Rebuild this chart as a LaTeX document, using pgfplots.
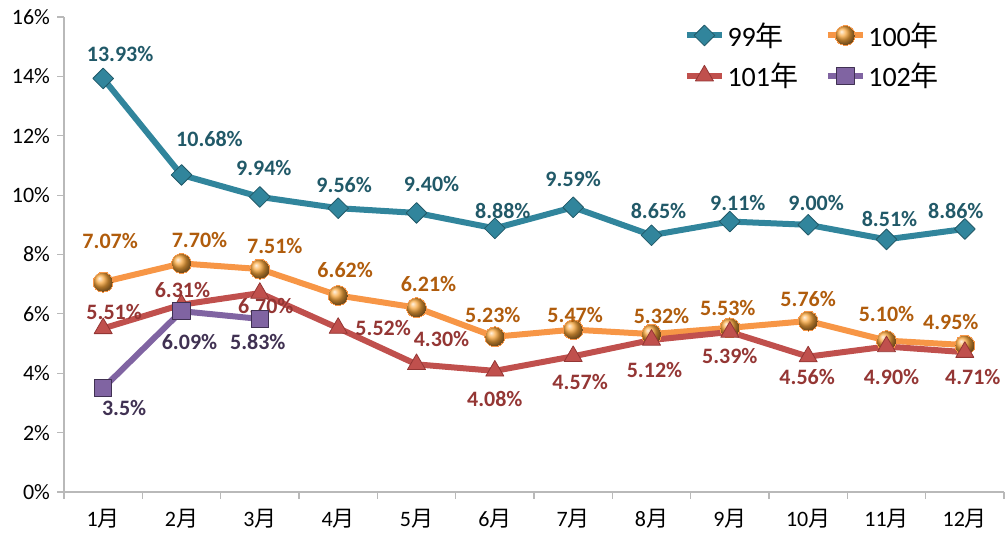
\documentclass[border=0pt]{standalone}
\usepackage{fontspec}
\setmainfont{Carlito}
\newfontfamily\cjk{Noto Sans CJK TC}
\usepackage{pgfplots}
\pgfplotsset{compat=1.18}

\definecolor{tealL}{HTML}{31859C}
\definecolor{tealD}{HTML}{215968}
\definecolor{orgL}{HTML}{F79646}
\definecolor{orgD}{HTML}{B05C0C}
\definecolor{redL}{HTML}{C0504D}
\definecolor{redD}{HTML}{943634}
\definecolor{purL}{HTML}{8064A2}
\definecolor{purD}{HTML}{403152}

\pgfplotsset{
  sA/.style={tealL, line width=4.5pt, mark=square*,
    mark options={rotate=45, fill=tealL, draw=tealD, line width=0.6pt, mark size=5.5pt}},
  sB/.style={orgL, line width=4.5pt, mark=ball,
    mark options={ball color=orgL!85!yellow, draw=none, line width=0pt, mark size=7.5pt}},
  sC/.style={redL, line width=4.5pt, mark=triangle*,
    mark options={fill=redL, draw=redD, line width=0.6pt, mark size=7.8pt}},
  sD/.style={purL, line width=4.5pt, mark=square*,
    mark options={fill=purL, draw=purD, line width=0.6pt, mark size=6.5pt}},
  % label offsets dx, dy are in px of the reference
  lbl/.style={
    forget plot,
    nodes near coords={\pgfplotspointmeta\%},
    point meta=explicit symbolic,
    visualization depends on={value \thisrow{dx} \as \ldx},
    visualization depends on={value \thisrow{dy} \as \ldy},
    every node near coord/.append style={anchor=center, inner sep=0pt,
      xshift=\ldx*0.75pt, yshift=\ldy*0.75pt,
      font=\fontsize{16.5}{19}\selectfont\bfseries},
  },
}

\begin{document}
\begin{tikzpicture}
\path[use as bounding box] (-48pt,-30.75pt) rectangle (706.5pt,369pt);
\begin{axis}[
  at={(0,0)}, anchor=south west,
  scale only axis, width=705pt, height=356.25pt,
  xmin=-0.5, xmax=11.5, ymin=0, ymax=16,
  clip=false,
  axis lines=left,
  axis line style={-, gray!55, line width=0.8pt},
  tick style={gray!55, line width=0.8pt},
  tick align=outside,
  major tick length=5pt,
  ytick={0,2,...,16},
  yticklabels={0\%,2\%,4\%,6\%,8\%,10\%,12\%,14\%,16\%},
  xtick={-0.5,0.5,...,11.5},
  xticklabels={1{\cjk 月},2{\cjk 月},3{\cjk 月},4{\cjk 月},5{\cjk 月},6{\cjk 月},7{\cjk 月},8{\cjk 月},9{\cjk 月},10{\cjk 月},11{\cjk 月},12{\cjk 月},{}},
  xticklabel style={xshift=29.375pt, yshift=-4pt},
  yticklabel style={xshift=-2pt},
  ticklabel style={font=\fontsize{16.5}{19}\selectfont},
  line join=round,
  legend columns=2,
  legend cell align=left,
  legend style={draw=none, fill=none, at={(0.655,1.0)}, anchor=north west,
    font=\fontsize{21}{25}\selectfont,
    /tikz/every even column/.append style={column sep=18pt},
    row sep=7pt},
  legend image code/.code={%
    \draw[mark repeat=2, mark phase=2] plot coordinates {(0cm,0cm) (0.46cm,0cm) (0.92cm,0cm)};},
]
\addlegendimage{sA}\addlegendentry{99{\cjk 年}}
\addlegendimage{sB}\addlegendentry{100{\cjk 年}}
\addlegendimage{sC}\addlegendentry{101{\cjk 年}}
\addlegendimage{sD}\addlegendentry{102{\cjk 年}}

\addplot[sA, lbl, every node near coord/.append style={text=tealD}]
  table[x=x, y=y, meta=lab] {
x y lab dx dy
0 13.93 13.93 17 24
1 10.68 10.68 28 36
2 9.94 9.94 4 29
3 9.56 9.56 6 23
4 9.40 9.40 15 29
5 8.88 8.88 8 17
6 9.59 9.59 0 28
7 8.65 8.65 7 24
8 9.11 9.11 8 19
9 9.00 9.00 8 22
10 8.51 8.51 3 20
11 8.86 8.86 -9 18
};
\addplot[sB, lbl, every node near coord/.append style={text=orgD}]
  table[x=x, y=y, meta=lab] {
x y lab dx dy
0 7.07 7.07 7 41
1 7.70 7.70 18 23
2 7.51 7.51 15 23
3 6.62 6.62 7 25
4 6.21 6.21 12 24
5 5.23 5.23 -2 22
6 5.47 5.47 2 15
7 5.32 5.32 10 18
8 5.53 5.53 -2 20
9 5.76 5.76 0 22
10 5.10 5.10 0 27
11 4.95 4.95 -14 23
};
\addplot[sC, lbl, every node near coord/.append style={text=redD}]
  table[x=x, y=y, meta=lab] {
x y lab dx dy
0 5.51 5.51 11 16
1 6.31 6.31 1 15
2 6.70 6.70 6 -13
3 5.52 5.52 45 0
4 4.30 4.30 25 25
5 4.08 4.08 0 -28
6 4.57 4.57 7 -26
7 5.12 5.12 3 -30
8 5.39 5.39 0 -24
9 4.56 4.56 -1 -20
10 4.90 4.90 5 -30
11 4.71 4.71 8 -25
};
\addplot[sD, lbl, every node near coord/.append style={text=purD}]
  table[x=x, y=y, meta=lab] {
x y lab dx dy
0 3.5 3.5 21 -20
1 6.09 6.09 8 -31
2 5.83 5.83 -2 -23
};
\end{axis}
\end{tikzpicture}
\end{document}
